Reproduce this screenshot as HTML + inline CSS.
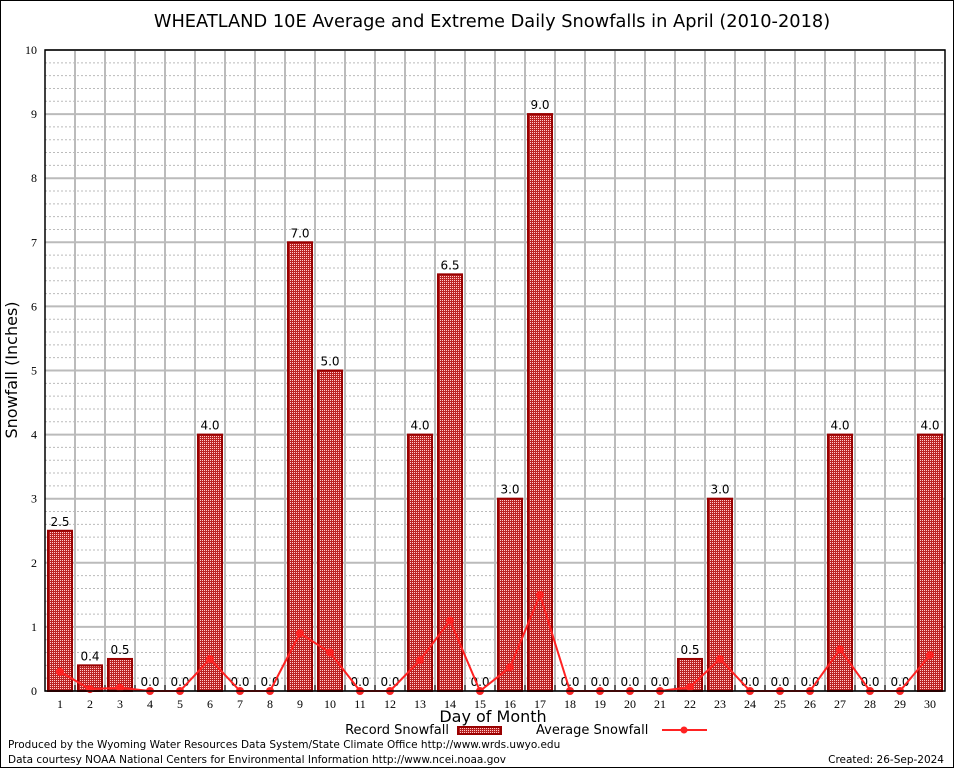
<!DOCTYPE html>
<html><head><meta charset="utf-8"><style>
body{margin:0;background:#fff}
svg{display:block;font-family:"DejaVu Sans","Liberation Sans",sans-serif}
</style></head><body>
<svg id="c" width="954" height="768">
<defs><pattern id="hatch" width="2" height="2" patternUnits="userSpaceOnUse"><rect width="2" height="2" fill="#b22"/><rect width="1" height="1" fill="#fcc"/></pattern></defs>
<rect x="0.5" y="0.5" width="953" height="767" fill="#fff" stroke="#000"/>
<text x="492" y="27" font-size="17.8" text-anchor="middle">WHEATLAND 10E Average and Extreme Daily Snowfalls in April (2010-2018)</text>
<text transform="translate(17,370) rotate(-90)" font-size="16" text-anchor="middle">Snowfall (Inches)</text>
<text x="493" y="722" font-size="16" text-anchor="middle">Day of Month</text>
<g>
<text x="449" y="734" font-size="13" text-anchor="end">Record Snowfall</text>
<rect x="458" y="727" width="43" height="7" fill="url(#hatch)" stroke="#900" stroke-width="2"/>
<text x="536" y="734" font-size="13">Average Snowfall</text>
<line x1="662" y1="730" x2="707" y2="730" stroke="#f22" stroke-width="2"/>
<circle cx="684" cy="730" r="3.5" fill="#f22"/>
</g>
<text x="8" y="748" font-size="10.5">Produced by the Wyoming Water Resources Data System/State Climate Office http://www.wrds.uwyo.edu</text>
<text x="8" y="763" font-size="10.5">Data courtesy NOAA National Centers for Environmental Information http://www.ncei.noaa.gov</text>
<text x="944" y="763" font-size="10.5" text-anchor="end">Created: 26-Sep-2024</text>
<g id="plot"></g>
</svg>
<script>
const days=[1,2,3,4,5,6,7,8,9,10,11,12,13,14,15,16,17,18,19,20,21,22,23,24,25,26,27,28,29,30];
const recordValues=[2.5,0.4,0.5,0,0,4,0,0,7,5,0,0,4,6.5,0,3,9,0,0,0,0,0.5,3,0,0,0,4,0,0,4];
const averageValues=[0.3,0.03,0.05,0,0,0.5,0,0,0.9,0.6,0,0,0.48,1.1,0,0.37,1.5,0,0,0,0,0.06,0.5,0,0,0,0.65,0,0,0.56];
const yTicks=[0,1,2,3,4,5,6,7,8,9,10];
const L=45,R=945,T=50,B=691,yMax=10;
const NS="http://www.w3.org/2000/svg";
const g=document.getElementById('plot');
const xs=d=>L+(d-0.5)*(R-L)/days.length;
const ys=v=>B-v*(B-T)/yMax;
const step=(R-L)/days.length;
function mk(t,a,p){const e=document.createElementNS(NS,t);for(const k in a)e.setAttribute(k,a[k]);(p||g).appendChild(e);return e;}
for(let v=0;v<yMax;v+=0.2){if(Math.abs(v-Math.round(v))<1e-6)continue;
const l=mk('line',{x1:L,x2:R,y1:ys(v),y2:ys(v),stroke:'#bbb','stroke-dasharray':'2,2'});

}
yTicks.forEach(v=>{
const l=mk('line',{x1:L,x2:R,y1:ys(v),y2:ys(v),stroke:'#bbb','stroke-width':2});


const t=mk('text',{x:L-8,y:ys(v)+4,'font-size':12,'text-anchor':'end','font-family':'Liberation Serif, serif'});t.textContent=v;

});
for(let i=1;i<days.length;i++){
const l=mk('line',{x1:L+i*step,x2:L+i*step,y1:T,y2:B,stroke:'#bbb','stroke-width':2});

}
days.forEach((d,i)=>{
const v=recordValues[i];
if(v>0){const r=mk('rect',{x:xs(d)-12,y:ys(v),width:24,height:B-ys(v),fill:'url(#hatch)',stroke:'#900','stroke-width':2});

}
const t=mk('text',{x:xs(d),y:ys(v)-5,'font-size':12,'text-anchor':'middle'});t.textContent=v.toFixed(1);


const k=mk('line',{x1:L+i*step,x2:L+i*step,y1:B,y2:B-6,stroke:'#000'});


const x=mk('text',{x:xs(d),y:B+17,'font-size':12,'text-anchor':'middle','font-family':'Liberation Serif, serif'});x.textContent=d;

});
const pl=mk('polyline',{points:days.map((d,i)=>xs(d)+','+ys(averageValues[i])).join(' '),fill:'none',stroke:'#f22','stroke-width':2});


days.forEach((d,i)=>{const c=mk('circle',{cx:xs(d),cy:ys(averageValues[i]),r:4,fill:'#f22'});

});
const f=mk('rect',{x:L,y:T,width:R-L,height:B-T,fill:'none',stroke:'#000','stroke-width':1.5});


</script>
</body></html>
